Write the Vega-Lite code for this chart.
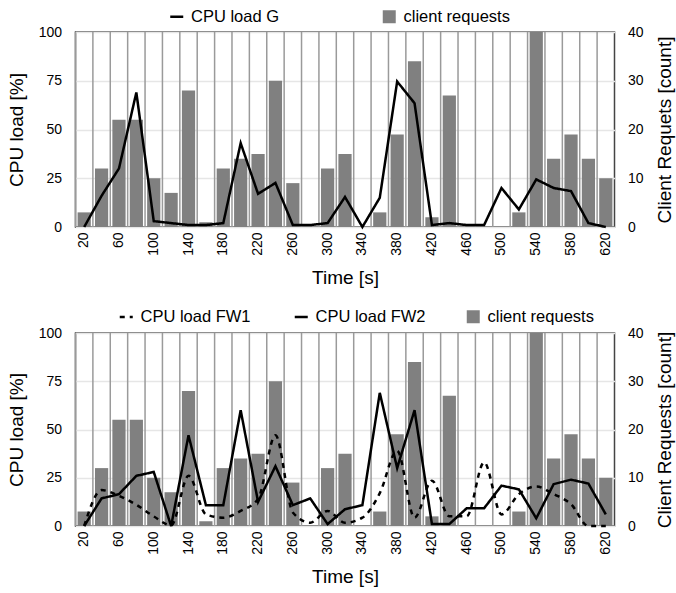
{
  "$schema": "https://vega.github.io/schema/vega-lite/v6.json",
  "padding": {"left": 5.5, "top": 7, "right": 0, "bottom": 0},
  "spacing": 18,
  "resolve": {"scale": {"color": "independent", "strokeDash": "independent"}, "legend": {"color": "independent", "strokeDash": "independent"}},
  "datasets": {
    "d": [
      {"t": 20, "req": 3, "CPU load G": 0, "CPU load FW1": 0, "CPU load FW2": 0},
      {"t": 40, "req": 12, "CPU load G": 16, "CPU load FW1": 18.6, "CPU load FW2": 14.3},
      {"t": 60, "req": 22, "CPU load G": 30, "CPU load FW1": 15.6, "CPU load FW2": 16.5},
      {"t": 80, "req": 22, "CPU load G": 69, "CPU load FW1": 11, "CPU load FW2": 26},
      {"t": 100, "req": 10, "CPU load G": 3, "CPU load FW1": 5, "CPU load FW2": 28},
      {"t": 120, "req": 7, "CPU load G": 2, "CPU load FW1": 0.3, "CPU load FW2": 0},
      {"t": 140, "req": 28, "CPU load G": 1, "CPU load FW1": 26, "CPU load FW2": 47},
      {"t": 160, "req": 1, "CPU load G": 1, "CPU load FW1": 6, "CPU load FW2": 10.8},
      {"t": 180, "req": 12, "CPU load G": 2, "CPU load FW1": 4.3, "CPU load FW2": 10.8},
      {"t": 200, "req": 14, "CPU load G": 43, "CPU load FW1": 7.8, "CPU load FW2": 60},
      {"t": 220, "req": 15, "CPU load G": 17, "CPU load FW1": 14, "CPU load FW2": 12.5},
      {"t": 240, "req": 30, "CPU load G": 22.6, "CPU load FW1": 47, "CPU load FW2": 31},
      {"t": 260, "req": 9, "CPU load G": 1, "CPU load FW1": 7, "CPU load FW2": 10.8},
      {"t": 280, "req": 0, "CPU load G": 1, "CPU load FW1": 1.7, "CPU load FW2": 14.3},
      {"t": 300, "req": 12, "CPU load G": 2, "CPU load FW1": 7.8, "CPU load FW2": 1},
      {"t": 320, "req": 15, "CPU load G": 15.4, "CPU load FW1": 1.7, "CPU load FW2": 8.7},
      {"t": 340, "req": 0, "CPU load G": 0, "CPU load FW1": 4.3, "CPU load FW2": 10.8},
      {"t": 360, "req": 3, "CPU load G": 15, "CPU load FW1": 17, "CPU load FW2": 69},
      {"t": 380, "req": 19, "CPU load G": 74.6, "CPU load FW1": 39, "CPU load FW2": 30},
      {"t": 400, "req": 34, "CPU load G": 63.5, "CPU load FW1": 4.3, "CPU load FW2": 60},
      {"t": 420, "req": 2, "CPU load G": 1, "CPU load FW1": 23.5, "CPU load FW2": 1},
      {"t": 440, "req": 27, "CPU load G": 2, "CPU load FW1": 5, "CPU load FW2": 1},
      {"t": 460, "req": 0, "CPU load G": 1, "CPU load FW1": 5, "CPU load FW2": 9.2},
      {"t": 480, "req": 0, "CPU load G": 1, "CPU load FW1": 33, "CPU load FW2": 9.2},
      {"t": 500, "req": 0, "CPU load G": 20, "CPU load FW1": 6, "CPU load FW2": 20.9},
      {"t": 520, "req": 3, "CPU load G": 9, "CPU load FW1": 16.5, "CPU load FW2": 19},
      {"t": 540, "req": 40, "CPU load G": 24.4, "CPU load FW1": 20.5, "CPU load FW2": 4},
      {"t": 560, "req": 14, "CPU load G": 20, "CPU load FW1": 16.5, "CPU load FW2": 21.7},
      {"t": 580, "req": 19, "CPU load G": 18.4, "CPU load FW1": 11.3, "CPU load FW2": 24},
      {"t": 600, "req": 14, "CPU load G": 2, "CPU load FW1": 0, "CPU load FW2": 22},
      {"t": 620, "req": 10, "CPU load G": 0, "CPU load FW1": 0, "CPU load FW2": 6}
    ]
  },
  "config": {
    "font": "Liberation Sans",
    "view": {"stroke": "#444444", "strokeWidth": 1.5},
    "axis": {
      "labelFont": "Liberation Sans", "labelFontSize": 14, "labelColor": "#000000",
      "titleFont": "Liberation Sans", "titleFontSize": 19, "titleFontWeight": "normal", "titleColor": "#000000",
      "ticks": false, "domain": false, "grid": false
    },
    "legend": {
      "labelFont": "Liberation Sans", "labelFontSize": 16.5, "labelColor": "#000000",
      "padding": 0, "labelOffset": 6, "symbolSize": 169, "orient": "none", "direction": "horizontal", "title": null
    }
  },
  "vconcat": [
    {
      "width": 539, "height": 195,
      "data": {"name": "d"},
      "layer": [
        {"mark": {"type": "rule", "color": "#9a9a9a", "strokeWidth": 1.5},
         "encoding": {"x": {"field": "t", "type": "ordinal", "bandPosition": 0, "scale": {"paddingInner": 0, "paddingOuter": 0},
          "axis": {"title": "Time [s]", "labelAngle": -90, "labelPadding": 5, "titlePadding": 13,
            "labelExpr": "(datum.value - 20) % 40 == 0 ? datum.label : ''"}}}},
        {"mark": {"type": "bar", "width": {"band": 0.76}},
         "encoding": {
           "x": {"field": "t", "type": "ordinal", "title": "Time [s]"},
           "y": {"field": "req", "type": "quantitative", "scale": {"domain": [0, 40]},
             "axis": {"orient": "right", "title": "Client Requets [count]", "values": [0, 10, 20, 30, 40],
               "labelPadding": 13, "titleAngle": 270, "titleBaseline": "top", "titlePadding": 12, "labelAlign": "left"}},
           "color": {"datum": "client requests", "scale": {"range": ["#808080"]},
             "legend": {"legendX": 305.5, "legendY": -23.5, "symbolType": "square", "symbolStrokeWidth": 0}}
         }},
        {"layer": [
          {"transform": [{"fold": ["CPU load G"], "as": ["series", "cpu"]}],
           "mark": {"type": "line", "color": "#000000", "strokeWidth": 2.5},
           "encoding": {
             "x": {"field": "t", "type": "ordinal", "title": "Time [s]"},
             "y": {"field": "cpu", "type": "quantitative", "scale": {"domain": [0, 100]},
               "axis": {"orient": "left", "title": "CPU load [%]", "values": [0, 25, 50, 75, 100],
                 "grid": true, "gridColor": "#e6e6e6", "gridWidth": 1.5, "labelPadding": 14, "titlePadding": 12}},
             "strokeDash": {"field": "series", "type": "nominal", "scale": {"domain": ["CPU load G"], "range": [[1, 0]]},
               "legend": {"legendX": 93, "legendY": -23.5, "symbolType": "stroke", "symbolStrokeWidth": 2.5, "symbolStrokeColor": "#000000"}}
           }}
        ]}
      ],
      "resolve": {"scale": {"y": "independent"}}
    },
    {
      "width": 539, "height": 193,
      "data": {"name": "d"},
      "layer": [
        {"mark": {"type": "rule", "color": "#9a9a9a", "strokeWidth": 1.5},
         "encoding": {"x": {"field": "t", "type": "ordinal", "bandPosition": 0, "scale": {"paddingInner": 0, "paddingOuter": 0},
          "axis": {"title": "Time [s]", "labelAngle": -90, "labelPadding": 5, "titlePadding": 13,
            "labelExpr": "(datum.value - 20) % 40 == 0 ? datum.label : ''"}}}},
        {"mark": {"type": "bar", "width": {"band": 0.76}},
         "encoding": {
           "x": {"field": "t", "type": "ordinal", "title": "Time [s]"},
           "y": {"field": "req", "type": "quantitative", "scale": {"domain": [0, 40]},
             "axis": {"orient": "right", "title": "Client Requests [count]", "values": [0, 10, 20, 30, 40],
               "labelPadding": 13, "titleAngle": 270, "titleBaseline": "top", "titlePadding": 12, "labelAlign": "left"}},
           "color": {"datum": "client requests", "scale": {"range": ["#808080"]},
             "legend": {"legendX": 389.5, "legendY": -24.5, "symbolType": "square", "symbolStrokeWidth": 0}}
         }},
        {"layer": [
          {"transform": [{"fold": ["CPU load FW1"], "as": ["series", "cpu"]}],
           "mark": {"type": "line", "color": "#000000", "strokeWidth": 2.5, "interpolate": "monotone"},
           "encoding": {
             "x": {"field": "t", "type": "ordinal", "title": "Time [s]"},
             "y": {"field": "cpu", "type": "quantitative", "scale": {"domain": [0, 100]},
               "axis": {"orient": "left", "title": "CPU load [%]", "values": [0, 25, 50, 75, 100],
                 "grid": true, "gridColor": "#e6e6e6", "gridWidth": 1.5, "labelPadding": 14, "titlePadding": 12}},
             "strokeDash": {"field": "series", "type": "nominal",
               "scale": {"domain": ["CPU load FW1", "CPU load FW2"], "range": [[5, 5], [1, 0]]},
               "legend": {"legendX": 42.5, "legendY": -24.5, "symbolType": "stroke", "symbolStrokeWidth": 2.5,
                 "symbolStrokeColor": "#000000", "columnPadding": 38}}
           }},
          {"transform": [{"fold": ["CPU load FW2"], "as": ["series", "cpu"]}],
           "mark": {"type": "line", "color": "#000000", "strokeWidth": 2.5},
           "encoding": {
             "x": {"field": "t", "type": "ordinal", "title": "Time [s]"},
             "y": {"field": "cpu", "type": "quantitative"},
             "strokeDash": {"field": "series", "type": "nominal"}
           }}
        ]}
      ],
      "resolve": {"scale": {"y": "independent"}}
    }
  ]
}
